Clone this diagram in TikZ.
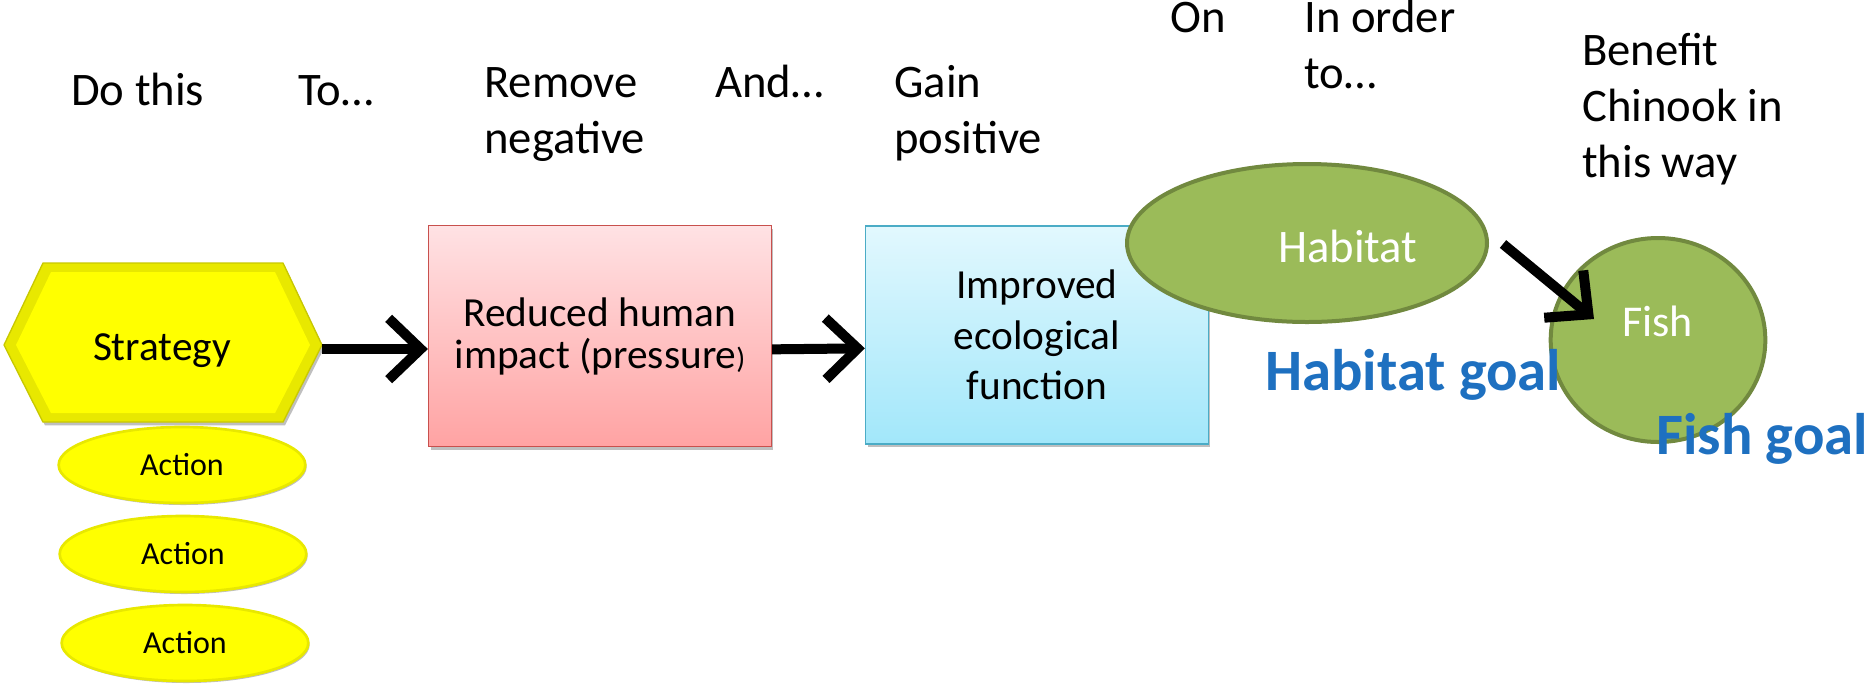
\documentclass[tikz,border=0pt]{standalone}
\usepackage{fontspec}
\setmainfont{Carlito}
\usetikzlibrary{arrows.meta,shapes.geometric,shadows}

\definecolor{hexyellow}{RGB}{255,255,0}
\definecolor{hexbevel}{RGB}{232,232,0}
\definecolor{hexedge}{RGB}{200,200,0}
\definecolor{redtop}{RGB}{255,226,228}
\definecolor{redbot}{RGB}{255,163,163}
\definecolor{rededge}{RGB}{200,80,77}
\definecolor{bluetop}{RGB}{226,248,254}
\definecolor{bluebot}{RGB}{162,231,250}
\definecolor{blueedge}{RGB}{75,172,198}
\definecolor{leaf}{RGB}{155,187,89}
\definecolor{leafedge}{RGB}{113,137,63}
\definecolor{goalblue}{RGB}{30,112,192}

\tikzset{
  toplabel/.style={anchor=base west, inner sep=0pt, align=left, font=\fontsize{35}{42}\selectfont},
  boxshadow/.style={drop shadow={shadow xshift=1.5pt, shadow yshift=-2.5pt, opacity=0.25, fill=black}},
  actionpill/.style={ellipse, fill=hexyellow, draw=hexbevel, line width=2pt, inner sep=0pt,
    minimum width=185pt, minimum height=57pt, font=\fontsize{24}{28}\selectfont,
    drop shadow={shadow xshift=1pt, shadow yshift=-1.5pt, opacity=0.25, fill=black}},
  goalshape/.style={ellipse, fill=leaf, draw=leafedge, line width=3pt, inner sep=0pt},
  goaltext/.style={anchor=base west, inner sep=0pt, text=goalblue, font=\fontsize{44}{50}\selectfont\bfseries},
  flow/.style={line width=7.5pt, -{Straight Barb[length=24pt,width=46pt]}}
}

\begin{document}
\begin{tikzpicture}[x=0.75pt,y=0.75pt,yscale=-1,xscale=1]
\useasboundingbox (0,0) rectangle (1868,687);

%Shape: Hexagon [id:strategy]
\draw [fill=hexbevel, draw=hexedge, line width=1pt, boxshadow] (4,345) -- (43,263) -- (283,263) -- (322,345) -- (283,422) -- (43,422) -- cycle ;
\fill [hexyellow] (16,345) -- (51,272) -- (275,272) -- (310,345) -- (275,413) -- (51,413) -- cycle ;
\coordinate (hexR) at (322,349);
\node (strategy) [anchor=base, inner sep=0pt, font=\fontsize{31}{36}\selectfont] at (162,360) {Strategy};

%Shape: Ellipses [id:actions]
\node (action1) [actionpill] at (182,465) {Action};
\node (action2) [actionpill] at (183,554) {Action};
\node (action3) [actionpill] at (185,643) {Action};

%Shape: Rectangle [id:pressure]
\node (redbox) [draw=rededge, line width=1.2pt, top color=redtop, bottom color=redbot, boxshadow,
  minimum width=257pt, minimum height=166pt, align=center, font=\fontsize{31}{31.5}\selectfont] at (600,336)
  {Reduced human\\impact (pressure{\fontsize{22}{24}\selectfont)}};

%Shape: Rectangle [id:function]
\node (bluebox) [draw=blueedge, line width=1.2pt, top color=bluetop, bottom color=bluebot, boxshadow,
  minimum width=257pt, minimum height=163.5pt, align=center, font=\fontsize{31}{38}\selectfont] at (1037,335)
  {Improved\\ecological\\function};

%Shape: Ellipse [id:habitat]
\node (habitat) [goalshape, minimum width=270pt, minimum height=118.5pt] at (1307,243) {};
%Shape: Circle [id:fish]
\node (fish) [goalshape, minimum width=161pt, minimum height=153pt] at (1658,340) {};

% Text Node
\node (habitattxt) [anchor=base west, inner sep=0pt, text=white, font=\fontsize{35}{42}\selectfont] at (1278,262) {Habitat};
% Text Node
\node (fishtxt) [anchor=base west, inner sep=0pt, text=white, font=\fontsize{33}{40}\selectfont] at (1622,336) {Fish};

%Straight Lines [id:arrows]
\coordinate (hbt) at (1503,244);
\coordinate (fsh) at (1594,319);
\draw [flow] (hexR) -- (redbox.west |- hexR) ;
\draw [flow] ([yshift=10pt]redbox.east) -- ([yshift=10pt]bluebox.west) ;
\draw [flow] (hbt) -- (fsh) ;

% Text Node
\node (habitatgoal) [goaltext] at (1265,390) {Habitat goal};
% Text Node
\node (fishgoal) [goaltext] at (1656,454) {Fish goal};

% Text Node
\node (dothis) [toplabel] at (71,105) {Do this};
% Text Node
\node (to) [toplabel] at (298,105) {To…};
% Text Node
\node (remove) [toplabel] at (484,153) {Remove\\negative};
% Text Node
\node (and) [toplabel] at (715,97) {And…};
% Text Node
\node (gain) [toplabel] at (894,153) {Gain\\positive};
% Text Node
\node (on) [toplabel] at (1170,32) {On};
% Text Node
\node (inorder) [toplabel] at (1304,88) {In order\\to…};
% Text Node
\node (benefit) [toplabel] at (1582,177) {Benefit\\Chinook in\\this way};

\end{tikzpicture}
\end{document}
